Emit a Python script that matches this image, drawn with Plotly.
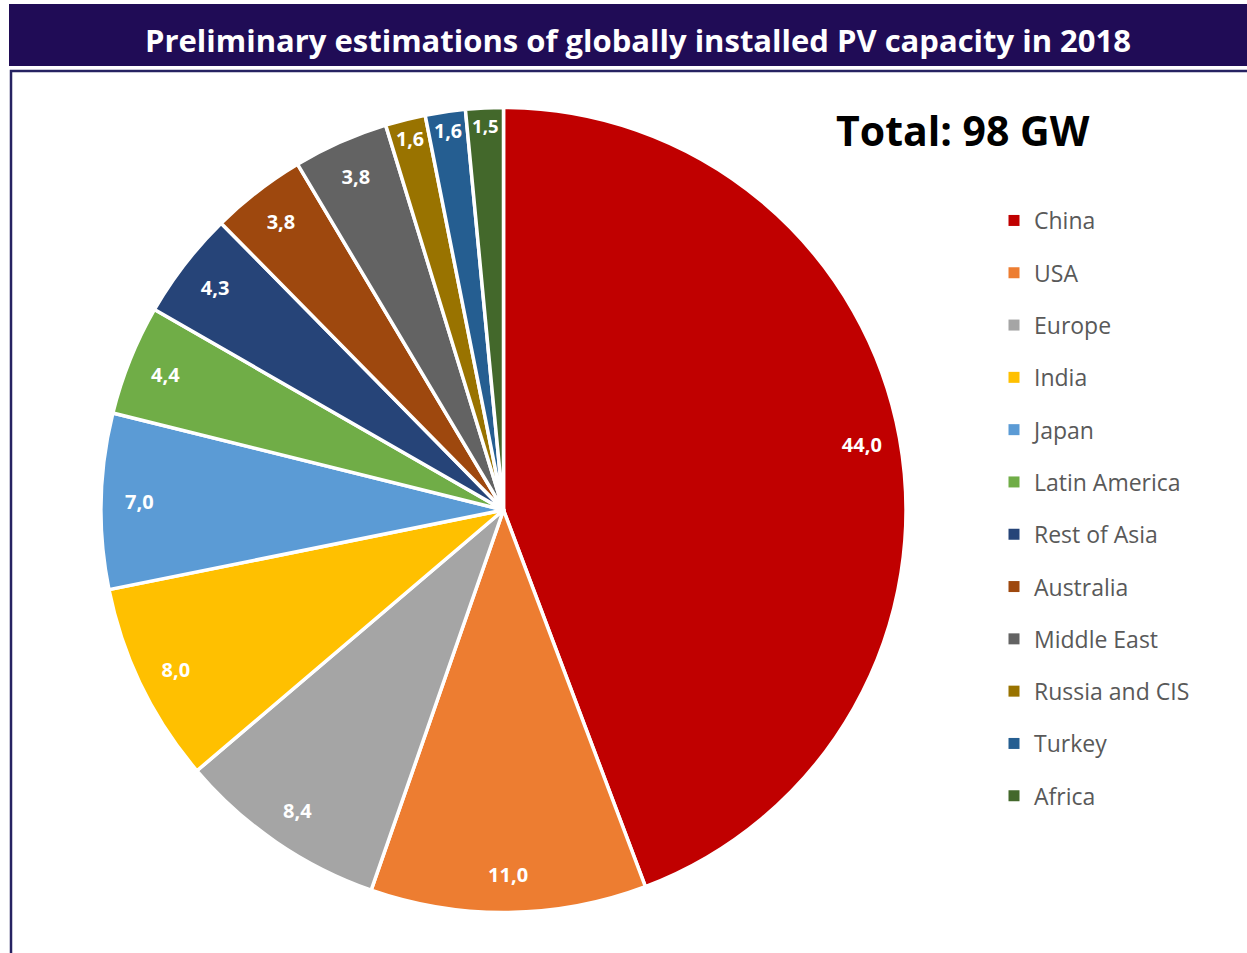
import plotly.graph_objects as go

W, H = 1247, 953

categories = ["China", "USA", "Europe", "India", "Japan", "Latin America",
              "Rest of Asia", "Australia", "Middle East", "Russia and CIS",
              "Turkey", "Africa"]
values = [44.0, 11.0, 8.4, 8.0, 7.0, 4.4, 4.3, 3.8, 3.8, 1.6, 1.6, 1.5]
colors = ["#C00000", "#ED7D31", "#A5A5A5", "#FFC000", "#5B9BD5", "#70AD47",
          "#264478", "#9E480E", "#636363", "#997300", "#255E91", "#43682B"]
title_text = "Preliminary estimations of globally installed PV capacity in 2018"
total_text = "Total: 98 GW"

FONT = "Open Sans"
NAVY = "#200C56"


def px(x):
    return x / W


def py(y):
    return (H - y) / H


pie_domain = dict(x=[px(101), px(906)], y=[py(913), py(107)])

fig = go.Figure()

# main pie
fig.add_trace(go.Pie(
    labels=categories, values=values, sort=False, direction="clockwise",
    rotation=0, domain=pie_domain,
    marker=dict(colors=colors, line=dict(color="white", width=3.5)),
    textinfo="none", showlegend=False,
))

# ring overlay carrying the data labels near the outer edge
fig.add_trace(go.Pie(
    labels=categories, values=values, sort=False, direction="clockwise",
    rotation=0, domain=pie_domain, hole=0.81,
    marker=dict(colors=["rgba(0,0,0,0)"] * len(values),
                line=dict(color="rgba(0,0,0,0)", width=0)),
    texttemplate="%{value:.1f}", textposition="inside",
    insidetextorientation="horizontal",
    textfont=dict(family=FONT, size=20, color="white", weight="bold"),
    showlegend=False, hoverinfo="skip",
))

# legend entries
for cat, col in zip(categories, colors):
    fig.add_trace(go.Scatter(
        x=[None], y=[None], mode="markers", name=cat, legendgroup=cat,
        marker=dict(symbol="square", size=11, color=col),
        showlegend=True, hoverinfo="skip",
    ))

shapes = [
    dict(type="rect", xref="paper", yref="paper",
         x0=px(9), x1=px(1260), y0=py(66), y1=py(4),
         fillcolor=NAVY, line=dict(width=0), layer="below"),
    dict(type="rect", xref="paper", yref="paper",
         x0=px(11), x1=px(1270), y0=py(980), y1=py(71),
         fillcolor="rgba(0,0,0,0)", line=dict(color="#262262", width=2.5)),
]

annotations = [
    dict(text=title_text, x=px(638), y=py(40), xref="paper", yref="paper",
         xanchor="center", yanchor="middle", showarrow=False,
         font=dict(family=FONT, size=31, color="white", weight="bold")),
    dict(text=total_text, x=px(963), y=py(130), xref="paper", yref="paper",
         xanchor="center", yanchor="middle", showarrow=False,
         font=dict(family=FONT, size=41, color="black", weight="bold")),
]

fig.update_layout(
    width=W, height=H, margin=dict(l=0, r=0, t=0, b=0),
    paper_bgcolor="white", plot_bgcolor="white",
    separators=", ",
    shapes=shapes, annotations=annotations,
    xaxis=dict(visible=False), yaxis=dict(visible=False),
    legend=dict(x=px(994), y=py(199), xanchor="left", yanchor="top",
                font=dict(family=FONT, size=23, color="#595959"),
                tracegroupgap=19.4, bgcolor="rgba(0,0,0,0)"),
)

fig.write_html("out.html")
